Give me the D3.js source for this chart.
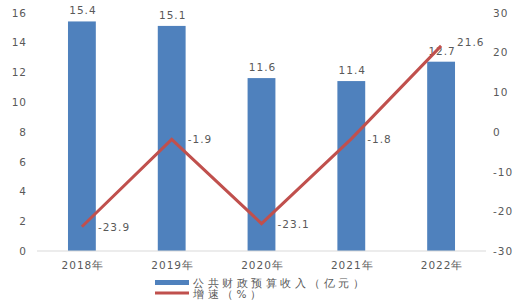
<!DOCTYPE html>
<html>
<head>
<meta charset="utf-8">
<script src="https://cdn.jsdelivr.net/npm/d3@7"></script>
<style>
  body { margin: 0; background: #fff; }
  text { font-family: "DejaVu Sans", sans-serif; fill: #595959; }
</style>
</head>
<body>
<svg id="chart" width="527" height="307"></svg>
<script>
const years = ['2018年', '2019年', '2020年', '2021年', '2022年'];
const revenue = [15.4, 15.1, 11.6, 11.4, 12.7];
const growth = [-23.9, -1.9, -23.1, -1.8, 21.6];
const leftTicks = [0, 2, 4, 6, 8, 10, 12, 14, 16];
const rightTicks = [-30, -20, -10, 0, 10, 20, 30];
const legendLabels = ['公共财政预算收入（亿元）', '增速（%）'];

const BAR_COLOR = '#4F81BD';
const LINE_COLOR = '#C0504D';

const svg = d3.select('#chart');
const plotLeft = 37, plotRight = 486, plotTop = 12.5, plotBottom = 251;

const x = d3.scaleBand().domain(years).range([plotLeft, plotRight]).paddingInner(0.69).paddingOuter(0.345);
const yL = d3.scaleLinear().domain([0, 16]).range([plotBottom, plotTop]);
const yR = d3.scaleLinear().domain([-30, 30]).range([plotBottom, plotTop]);
const cx = i => x(years[i]) + x.bandwidth() / 2;

// bars
svg.append('g').selectAll('rect')
  .data(revenue)
  .join('rect')
  .attr('x', (d, i) => x(years[i]))
  .attr('width', x.bandwidth())
  .attr('y', d => yL(d))
  .attr('height', d => yL(0) - yL(d))
  .attr('fill', BAR_COLOR);

// baseline
svg.append('line')
  .attr('x1', plotLeft).attr('x2', plotRight)
  .attr('y1', plotBottom).attr('y2', plotBottom)
  .attr('stroke', '#d9d9d9').attr('stroke-width', 1);

// left axis labels
svg.append('g').selectAll('text')
  .data(leftTicks)
  .join('text')
  .attr('x', 27).attr('y', d => yL(d) + 4)
  .attr('text-anchor', 'end')
  .attr('font-size', '10.5px')
  .attr('letter-spacing', '1px')
  .text(d => d);

// right axis labels
svg.append('g').selectAll('text')
  .data(rightTicks)
  .join('text')
  .attr('x', 493).attr('y', d => yR(d) + 4)
  .attr('text-anchor', 'start')
  .attr('font-size', '10.5px')
  .attr('letter-spacing', '1px')
  .text(d => d);

// x labels
svg.append('g').selectAll('text')
  .data(years)
  .join('text')
  .attr('x', d => x(d) + x.bandwidth() / 2 + 1)
  .attr('y', 269)
  .attr('text-anchor', 'middle')
  .attr('font-size', '10.5px')
  .attr('letter-spacing', '1px')
  .text(d => d);

// bar value labels
svg.append('g').selectAll('text')
  .data(revenue)
  .join('text')
  .attr('x', (d, i) => cx(i) + 1)
  .attr('y', d => yL(d) - 7)
  .attr('text-anchor', 'middle')
  .attr('font-size', '10.5px')
  .attr('letter-spacing', '1px')
  .text(d => d.toFixed(1));

// growth line
const line = d3.line()
  .x((d, i) => cx(i))
  .y(d => yR(d));

svg.append('path')
  .datum(growth)
  .attr('fill', 'none')
  .attr('stroke', LINE_COLOR)
  .attr('stroke-width', 3)
  .attr('stroke-linejoin', 'miter')
  .attr('d', line);

// growth labels
svg.append('g').selectAll('text')
  .data(growth)
  .join('text')
  .attr('x', (d, i) => cx(i) + 16)
  .attr('y', (d, i) => yR(d) + (i === 4 ? 0 : 4))
  .attr('text-anchor', 'start')
  .attr('font-size', '10.5px')
  .attr('letter-spacing', '1px')
  .text(d => d.toFixed(1));

// legend
const lg = svg.append('g');
lg.append('rect')
  .attr('x', 155).attr('y', 280).attr('width', 34).attr('height', 5)
  .attr('fill', BAR_COLOR);
lg.append('line')
  .attr('x1', 155).attr('x2', 189).attr('y1', 293).attr('y2', 293)
  .attr('stroke', LINE_COLOR).attr('stroke-width', 3);
lg.selectAll('text')
  .data(legendLabels)
  .join('text')
  .attr('x', 193)
  .attr('y', (d, i) => 286.5 + i * 11.5)
  .attr('font-size', '10.5px')
  .attr('letter-spacing', '3.5px')
  .text(d => d);
</script>
</body>
</html>
